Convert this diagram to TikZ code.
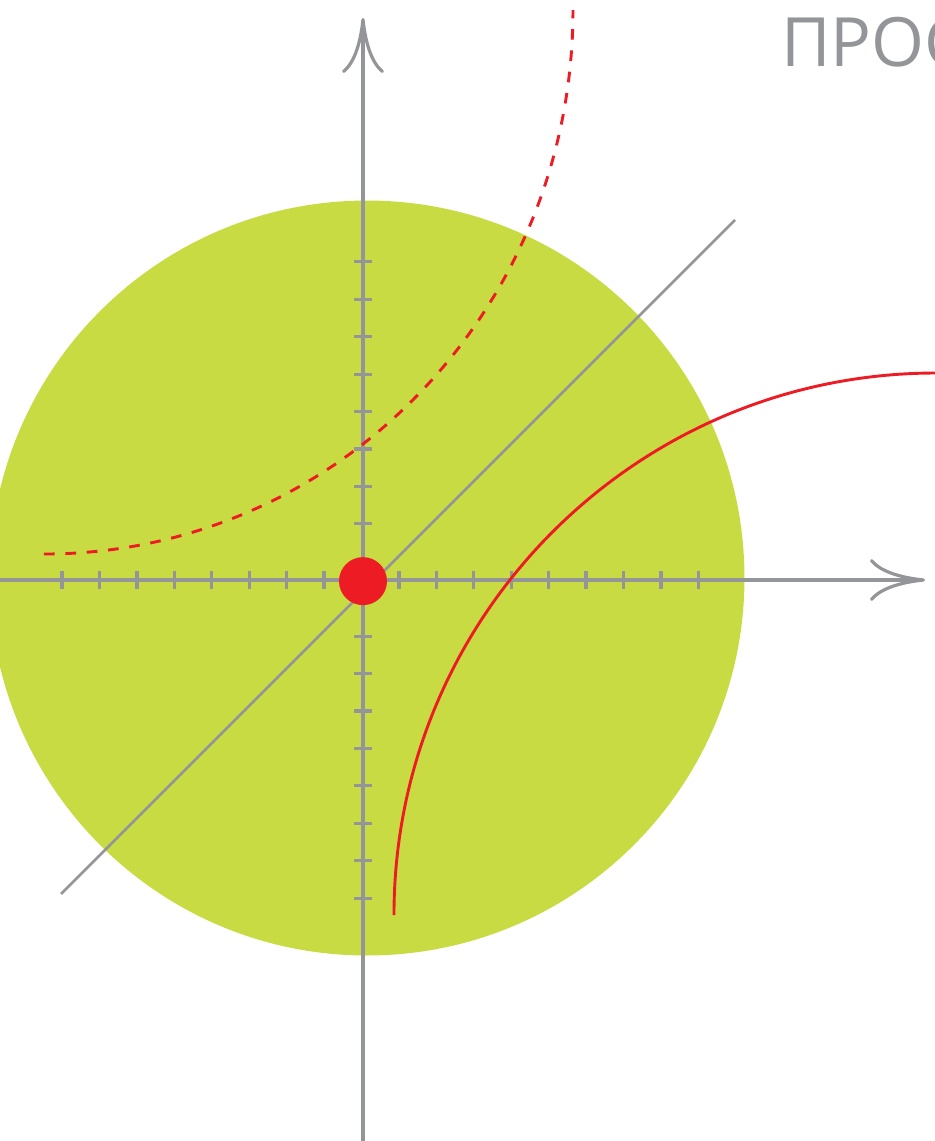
\documentclass[tikz,border=0pt]{standalone}
\usepackage{fontspec}
\setmainfont{Open Sans}
\usetikzlibrary{arrows.meta}
\definecolor{discgreen}{RGB}{200,219,67}
\definecolor{curvered}{RGB}{237,28,36}
\definecolor{axisgray}{RGB}{148,149,153}
\begin{document}
\begin{tikzpicture}[x=37.43pt, y=37.43pt,
    axis/.style={draw=axisgray, line width=3.2pt},
    tickmark/.style={draw=axisgray, line width=3.2pt},
    redcurve/.style={draw=curvered, line width=2.9pt},
    arrowtip/.style={-{Computer Modern Rightarrow[length=55pt,width=42pt]}}]
    \useasboundingbox (-9.698,-14.988) rectangle (15.282,15.496);
    \clip (-9.698,-14.988) rectangle (15.282,15.496);

    \fill[discgreen] (0.107,0.053) circle[radius=10.085];

    \coordinate (diagA) at (-8.068,-8.389);
    \coordinate (diagB) at (9.939,9.618);
    \draw[axis, line width=2.8pt] (diagA) -- (diagB);

    \coordinate (xleft) at (-9.8,0);
    \coordinate (xright) at (15.015,0);
    \coordinate (ybottom) at (0,-15.1);
    \coordinate (ytop) at (0,15.015);
    \draw[axis, arrowtip] (xleft) -- (xright);
    \draw[axis, arrowtip] (ybottom) -- (ytop);

    \foreach \i in {1,...,8}{
        \draw[tickmark] (\i-0.04,-0.24) -- (\i-0.04,0.24);
        \draw[tickmark] (-\i-0.04,-0.24) -- (-\i-0.04,0.24);
    }
    \draw[tickmark] (8.96,-0.24) -- (8.96,0.24);
    \foreach \j in {1.5,2.5,...,8.5}{
        \draw[tickmark] (-0.24,\j) -- (0.24,\j);
        \draw[tickmark] (-0.24,-\j) -- (0.24,-\j);
    }

    \draw[redcurve] (0.828,-8.95) arc[start angle=180, end angle=90, radius=14.48];
    \draw[redcurve, dash pattern=on 10.7pt off 10.7pt] (-8.523,0.694)
        arc[start angle=270, end angle=360, x radius=14.133, y radius=14.534];

    \node[circle, fill=curvered, minimum size=48pt, inner sep=0pt] (origin) at (0,-0.03) {};

    \node[anchor=base west, inner sep=0pt, text=axisgray,
        font=\fontsize{68}{68}\selectfont] (title) at (11.168,13.732) {ПРОС};
\end{tikzpicture}
\end{document}
